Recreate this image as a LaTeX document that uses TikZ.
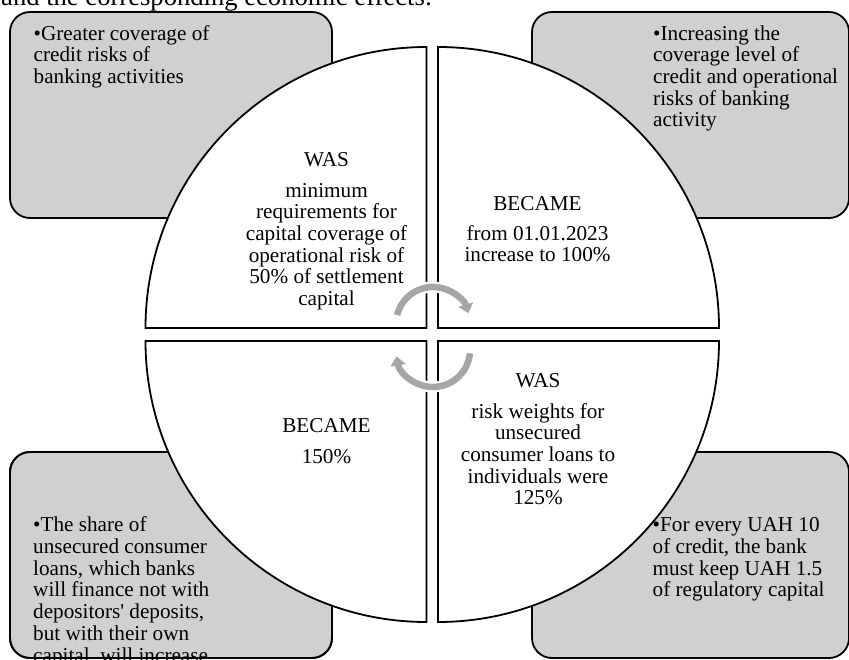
\documentclass[tikz,border=0pt]{standalone}
\usepackage{fontspec}
\setmainfont{Liberation Serif}
\usetikzlibrary{arrows.meta}
\definecolor{boxgray}{RGB}{208,208,208}
\definecolor{arrgray}{RGB}{166,166,166}
\begin{document}
\begin{tikzpicture}[x=1pt,y=-1pt,
  box/.style={draw=black,line width=1.8pt,fill=boxgray,rounded corners=20pt},
  boxline/.style={draw=black,line width=1.8pt,rounded corners=20pt},
  quad/.style={draw=black,line width=1.8pt,fill=white},
  btxt/.style={anchor=north west,inner sep=0pt,align=left,font=\fontsize{21.2}{21.7}\selectfont},
  qtxt/.style={anchor=north,inner sep=0pt,align=center,font=\fontsize{21.2}{21.7}\selectfont},
  halo/.style={draw=white,line width=11pt},
  cyc/.style={draw=arrgray,line width=6.5pt,-{Triangle[width=15pt,length=9pt]}},
]
\useasboundingbox (0,0) rectangle (849,660);
\clip (0,0) rectangle (849,660);

% heading (cut at the top)
\node[anchor=base west,inner sep=0pt] (head) at (1,5.5)
  {\resizebox{431pt}{!}{\fontsize{24}{28}\selectfont and the corresponding economic effects:}};

% effect boxes
\path[box] (10,12) rectangle (332,218);
\path[box] (532,12) rectangle (849,218);
\path[box] (10,452) rectangle (332,658);
\path[box] (532,452) rectangle (849,658);

\node[btxt] (e1) at (33.5,24.8) {\strut•Greater coverage of\\credit risks of\\banking activities};
\node[btxt] (e2) at (653,24.8) {\strut•Increasing the\\coverage level of\\credit and operational\\risks of banking\\activity};
\node[btxt] (e3) at (33,516.5) {\strut•The share of\\unsecured consumer\\loans, which banks\\will finance not with\\depositors\textquotesingle{} deposits,\\but with their own\\capital, will increase};
\node[btxt] (e4) at (652.5,516.5) {\strut•For every UAH 10\\of credit, the bank\\must keep UAH 1.5\\of regulatory capital};
\path[boxline] (10,452) rectangle (332,658);

% quadrants
\path[quad] (426.5,328) -- (145.5,328) arc[start angle=180,end angle=270,radius=281] -- cycle;
\path[quad] (438,328) -- (438,47) arc[start angle=270,end angle=360,radius=281] -- cycle;
\path[quad] (426.5,341) -- (145.5,341) arc[start angle=180,end angle=90,radius=281] -- cycle;
\path[quad] (438,341) -- (719,341) arc[start angle=0,end angle=90,radius=281] -- cycle;

\node[qtxt] (q1) at (326.5,150.8) {\strut WAS\\[9.3pt]minimum\\requirements for\\capital coverage of\\operational risk of\\50\% of settlement\\capital};
\node[qtxt] (q2) at (537.5,194.8) {\strut BECAME\\[8.3pt]from 01.01.2023\\increase to 100\%};
\node[qtxt] (q3) at (326.5,416.8) {\strut BECAME\\[9.3pt]150\%};
\node[qtxt] (q4) at (538,371.8) {\strut WAS\\[9.3pt]risk weights for\\unsecured\\consumer loans to\\individuals were\\125\%};

% cycle arrows
\draw[halo] (433,324) ++(235:37) arc[start angle=235,end angle=305,radius=37];
\draw[halo] (433,350) ++(55:37) arc[start angle=55,end angle=125,radius=37];
\draw[cyc] (433,324) ++(194:37) arc[start angle=194,end angle=343,radius=37];
\draw[cyc] (433,350) ++(5:37) arc[start angle=5,end angle=170,radius=37];
\end{tikzpicture}
\end{document}
